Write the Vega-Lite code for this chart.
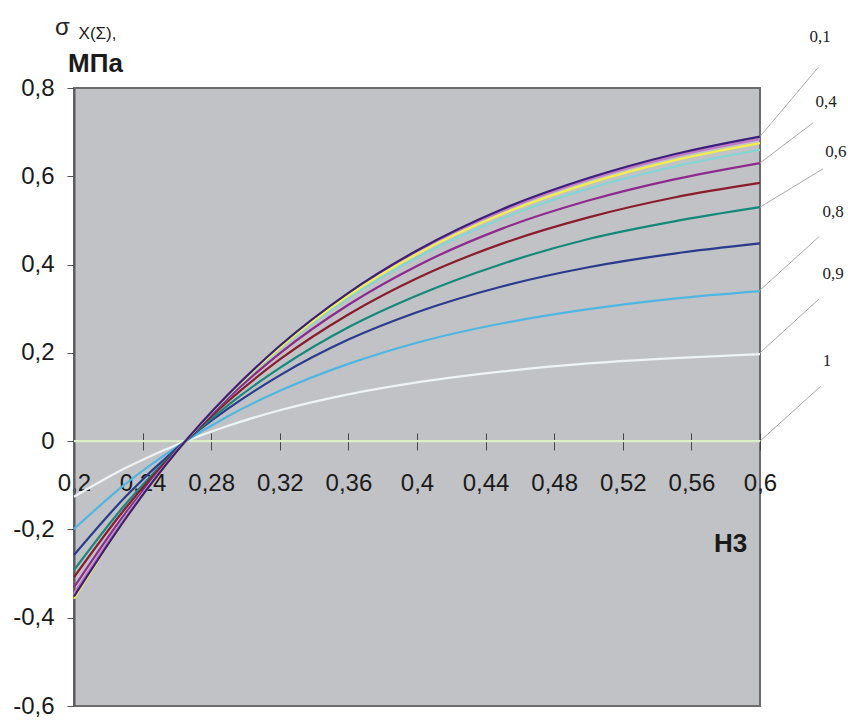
{
  "$schema": "https://vega.github.io/schema/vega-lite/v6.json",
  "width": 686,
  "height": 618,
  "autosize": "none",
  "padding": {"left": 74, "top": 88, "right": 88, "bottom": 14},
  "background": "white",
  "config": {
    "font": "Liberation Sans",
    "view": {"fill": "#c1c2c6", "stroke": "#6c6c6c", "strokeWidth": 2}
  },
  "title": {
    "text": "σ",
    "subtitle": "\u200b\u00a0\u00a0\u00a0\u00a0\u00a0X(Σ),",
    "anchor": "start",
    "frame": "group",
    "dx": -19,
    "dy": 22,
    "offset": 8,
    "fontSize": 24,
    "fontWeight": "normal",
    "font": "Liberation Sans",
    "color": "#222222",
    "subtitleFont": "Liberation Sans",
    "subtitleFontSize": 17,
    "subtitleColor": "#222222",
    "subtitlePadding": -14
  },
  "datasets": {
    "curves": [
      {"x": 0.20, "k01": -0.352, "k02": -0.345, "k03": -0.357, "k04": -0.348, "k05": -0.331, "k06": -0.308, "k07": -0.292, "k08": -0.258, "k09": -0.199, "k095": -0.126, "k1": 0},
      {"x": 0.23, "k01": -0.176, "k02": -0.172, "k03": -0.176, "k04": -0.171, "k05": -0.163, "k06": -0.152, "k07": -0.143, "k08": -0.126, "k09": -0.097, "k095": -0.061, "k1": 0},
      {"x": 0.26, "k01": -0.023, "k02": -0.022, "k03": -0.023, "k04": -0.022, "k05": -0.021, "k06": -0.020, "k07": -0.019, "k08": -0.016, "k09": -0.013, "k095": -0.008, "k1": 0},
      {"x": 0.29, "k01": 0.106, "k02": 0.106, "k03": 0.105, "k04": 0.103, "k05": 0.098, "k06": 0.091, "k07": 0.082, "k08": 0.074, "k09": 0.057, "k095": 0.035, "k1": 0},
      {"x": 0.32, "k01": 0.216, "k02": 0.215, "k03": 0.212, "k04": 0.209, "k05": 0.199, "k06": 0.185, "k07": 0.166, "k08": 0.149, "k09": 0.114, "k095": 0.070, "k1": 0},
      {"x": 0.36, "k01": 0.336, "k02": 0.334, "k03": 0.330, "k04": 0.324, "k05": 0.309, "k06": 0.287, "k07": 0.258, "k08": 0.230, "k09": 0.175, "k095": 0.106, "k1": 0},
      {"x": 0.40, "k01": 0.432, "k02": 0.430, "k03": 0.424, "k04": 0.416, "k05": 0.397, "k06": 0.369, "k07": 0.330, "k08": 0.292, "k09": 0.223, "k095": 0.133, "k1": 0},
      {"x": 0.45, "k01": 0.526, "k02": 0.522, "k03": 0.515, "k04": 0.505, "k05": 0.482, "k06": 0.448, "k07": 0.402, "k08": 0.351, "k09": 0.267, "k095": 0.158, "k1": 0},
      {"x": 0.50, "k01": 0.596, "k02": 0.592, "k03": 0.584, "k04": 0.572, "k05": 0.545, "k06": 0.507, "k07": 0.458, "k08": 0.394, "k09": 0.299, "k095": 0.176, "k1": 0},
      {"x": 0.55, "k01": 0.650, "k02": 0.645, "k03": 0.636, "k04": 0.622, "k05": 0.593, "k06": 0.552, "k07": 0.498, "k08": 0.425, "k09": 0.323, "k095": 0.188, "k1": 0},
      {"x": 0.60, "k01": 0.690, "k02": 0.684, "k03": 0.675, "k04": 0.660, "k05": 0.630, "k06": 0.585, "k07": 0.530, "k08": 0.448, "k09": 0.340, "k095": 0.197, "k1": 0}
    ],
    "leaders": [
      {"label": "0,1", "x": 0.6, "y": 0.69, "x2": 0.6338, "y2": 0.846, "lx": 0.635, "ly": 0.916},
      {"label": "0,4", "x": 0.6, "y": 0.63, "x2": 0.6309, "y2": 0.721, "lx": 0.6385, "ly": 0.769},
      {"label": "0,6", "x": 0.6, "y": 0.53, "x2": 0.6367, "y2": 0.617, "lx": 0.6443, "ly": 0.655},
      {"label": "0,8", "x": 0.6, "y": 0.342, "x2": 0.6344, "y2": 0.463, "lx": 0.6426, "ly": 0.519},
      {"label": "0,9", "x": 0.6, "y": 0.2, "x2": 0.6344, "y2": 0.322, "lx": 0.6426, "ly": 0.379},
      {"label": "1", "x": 0.6, "y": 0.0, "x2": 0.6356, "y2": 0.125, "lx": 0.6391, "ly": 0.181}
    ]
  },
  "layer": [
    {
      "data": {"name": "curves"},
      "transform": [
        {"fold": ["k1", "k095", "k09", "k08", "k07", "k06", "k05", "k04", "k02", "k03", "k01"], "as": ["series", "value"]}
      ],
      "mark": {"type": "line", "interpolate": "monotone", "strokeWidth": 2.2},
      "encoding": {
        "x": {
          "field": "x",
          "type": "quantitative",
          "scale": {"domain": [0.2, 0.6], "nice": false, "zero": false},
          "axis": {
            "orient": "bottom",
            "offset": -273,
            "values": [0.2, 0.24, 0.28, 0.32, 0.36, 0.4, 0.44, 0.48, 0.52, 0.56, 0.6],
            "labelExpr": "replace(format(datum.value, '.2~f'), '.', ',')",
            "domain": false,
            "grid": false,
            "tickSize": 17,
            "tickColor": "#444444",
            "tickWidth": 1,
            "labelFontSize": 24,
            "labelColor": "#1a1a1a",
            "labelPadding": 21,
            "labelFlush": false,
            "labelOverlap": false,
            "title": "Н3",
            "titleFontSize": 26,
            "titleFontWeight": "bold",
            "titleColor": "#1a1a1a",
            "titleX": 656,
            "titleY": 110,
            "titleAlign": "center",
            "titleBaseline": "middle"
          }
        },
        "y": {
          "field": "value",
          "type": "quantitative",
          "scale": {"domain": [-0.6, 0.8], "nice": false, "zero": false},
          "axis": {
            "values": [-0.6, -0.4, -0.2, 0, 0.2, 0.4, 0.6, 0.8],
            "labelExpr": "replace(replace(format(datum.value, '.1~f'), '.', ','), '−', '-')",
            "grid": false,
            "domainColor": "#5a5a5a",
            "domainWidth": 2,
            "tickColor": "#555555",
            "tickSize": 7,
            "labelFontSize": 24,
            "labelColor": "#1a1a1a",
            "labelPadding": 13,
            "title": "МПа",
            "titleAngle": 0,
            "titleFontSize": 26,
            "titleFontWeight": "bold",
            "titleColor": "#1a1a1a",
            "titleX": 21,
            "titleY": -25,
            "titleAlign": "center",
            "titleBaseline": "middle"
          }
        },
        "color": {
          "field": "series",
          "type": "nominal",
          "scale": {
            "domain": ["k01", "k02", "k03", "k04", "k05", "k06", "k07", "k08", "k09", "k095", "k1"],
            "range": ["#3b1f7a", "#c07ac8", "#f2ef4a", "#86d4d4", "#8e2a8e", "#8a1c2c", "#14897a", "#2a3a8c", "#4fb6e2", "#eef3f6", "#dcefc4"]
          },
          "legend": null
        }
      }
    },
    {
      "data": {"name": "leaders"},
      "mark": {"type": "rule", "color": "#a9a9a9", "strokeWidth": 1},
      "encoding": {
        "x": {"field": "x", "type": "quantitative"},
        "y": {"field": "y", "type": "quantitative"},
        "x2": {"field": "x2"},
        "y2": {"field": "y2"}
      }
    },
    {
      "data": {"name": "leaders"},
      "mark": {"type": "text", "font": "Liberation Serif", "fontSize": 17, "color": "#222222", "align": "center", "baseline": "middle"},
      "encoding": {
        "x": {"field": "lx", "type": "quantitative"},
        "y": {"field": "ly", "type": "quantitative"},
        "text": {"field": "label"}
      }
    }
  ]
}
